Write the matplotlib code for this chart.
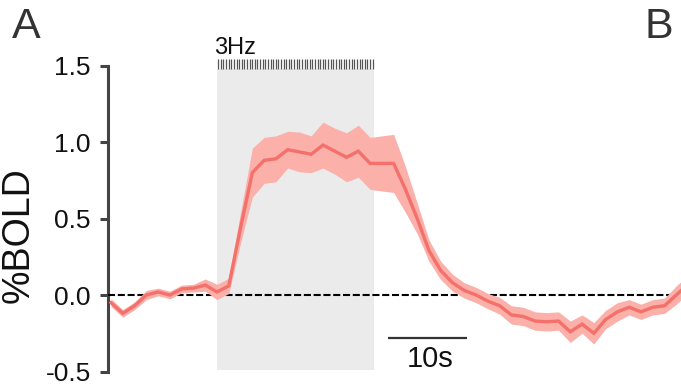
import numpy as np
import matplotlib
matplotlib.use("Agg")
import matplotlib.pyplot as plt

plt.rcParams['font.family'] = ['Liberation Sans', 'DejaVu Sans']

# ---- data ----
tr = 1.5
t_start = -13.5
bold_mean = [-0.05, -0.12, -0.07, 0.0, 0.02, 0.0, 0.04, 0.045, 0.065, 0.02, 0.06,
             0.44, 0.80, 0.88, 0.89, 0.95, 0.935, 0.92, 0.98, 0.94, 0.90, 0.94, 0.86, 0.86, 0.86,
             0.69, 0.50, 0.29, 0.16, 0.08, 0.03, 0.0, -0.04, -0.07, -0.13, -0.14, -0.17, -0.175,
             -0.17, -0.24, -0.19, -0.25, -0.16, -0.11, -0.08, -0.11, -0.08, -0.07, 0.0, 0.07]
bold_sem = [0.025, 0.025, 0.025, 0.03, 0.025, 0.025, 0.025, 0.025, 0.04, 0.05, 0.05,
            0.10, 0.16, 0.15, 0.15, 0.12, 0.13, 0.12, 0.15, 0.15, 0.16, 0.17, 0.17, 0.18, 0.19,
            0.15, 0.10, 0.07, 0.06, 0.055, 0.05, 0.05, 0.05, 0.055, 0.06, 0.06, 0.06, 0.06,
            0.06, 0.07, 0.06, 0.07, 0.06, 0.06, 0.05, 0.05, 0.05, 0.05, 0.06, 0.06]
time = t_start + tr * np.arange(len(bold_mean))
stim_on, stim_off = 0.0, 20.0
stim_freq = 3  # Hz
stim_label = "3Hz"
yticks = [-0.5, 0.0, 0.5, 1.0, 1.5]
ytick_labels = ["-0.5", "0.0", "0.5", "1.0", "1.5"]
scalebar_len = 10
scalebar_label = "10s"

mean = np.array(bold_mean)
sem = np.array(bold_sem)

# ---- figure ----
W, H = 681, 388
fig = plt.figure(figsize=(W / 100, H / 100), dpi=100)
ax = fig.add_axes([108 / W, 1 - 374.6 / H, 1 - 108 / W, (374.6 - 50.2) / H])
ax.set_xlim(-13.885, 59.1)
ax.set_ylim(-0.52, 1.6)

# stimulus block
ax.fill_between([stim_on, stim_off], -0.49, 1.48, color='#ebebeb', lw=0, zorder=0)
pulses = np.arange(stim_on, stim_off, 1 / stim_freq) + 0.15
ax.vlines(pulses, 1.48, 1.545, color='#555555', lw=0.9, zorder=1)
ax.text(stim_on - 0.4, 1.575, stim_label, fontsize=17, ha='left', va='baseline', color='#111111')

# baseline
ax.axhline(0, color='black', lw=1.5, ls=(0, (3.4, 1.3)), zorder=3)

# response
ax.fill_between(time, mean - sem, mean + sem, color='#fbb0aa', lw=0, zorder=4)
ax.plot(time, mean, color='#f4706a', lw=2.4, zorder=5, solid_joinstyle='miter')

# scale bar
sb_x0 = 21.8
ax.plot([sb_x0, sb_x0 + scalebar_len], [-0.28, -0.28], color='#333333', lw=1.6, solid_capstyle='butt')
ax.text(sb_x0 + scalebar_len / 2 + 0.3, -0.47, scalebar_label, fontsize=21, ha='center', va='baseline', color='#111111')

# axes styling
for s in ['top', 'right', 'bottom']:
    ax.spines[s].set_visible(False)
ax.spines['left'].set_color('#444444')
ax.spines['left'].set_linewidth(2.2)
ax.spines['left'].set_bounds(-0.5, 1.5)
ax.set_xticks([])
ax.set_yticks(yticks)
ax.set_yticklabels(ytick_labels)
ax.tick_params(axis='y', length=6, width=2.2, color='#444444', labelsize=19, pad=6.5, labelcolor='#111111')
ax.patch.set_alpha(0)

fig.text(19 / W, 1 - 235 / H, "%BOLD", rotation=90, fontsize=27, ha='center', va='center', color='#111111')
fig.text(12 / W, 1 - 38 / H, "A", fontsize=31, ha='left', va='baseline', color='#333333')
fig.text(645 / W, 1 - 38 / H, "B", fontsize=31, ha='left', va='baseline', color='#333333')

fig.savefig("out.png", dpi=100)
